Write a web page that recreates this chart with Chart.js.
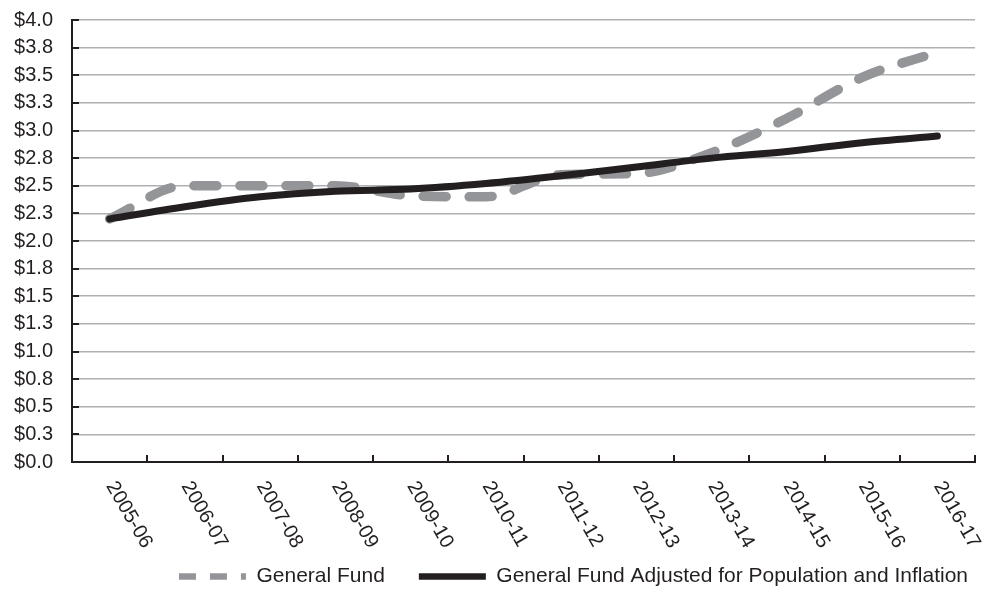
<!DOCTYPE html>
<html>
<head>
<meta charset="utf-8">
<script src="https://cdn.jsdelivr.net/npm/chart.js@4.4.1/dist/chart.umd.min.js"></script>
<style>
  html, body { margin: 0; padding: 0; background: #fff; }
  #wrap { width: 985px; height: 589px; }
</style>
</head>
<body>
<div id="wrap"><canvas id="chart"></canvas></div>
<script>
// Data (billions of dollars)
const years = ['2005-06', '2006-07', '2007-08', '2008-09', '2009-10', '2010-11',
  '2011-12', '2012-13', '2013-14', '2014-15', '2015-16', '2016-17'];
const generalFund = [2.20, 2.50, 2.50, 2.50, 2.41, 2.40, 2.60, 2.61, 2.80, 3.11, 3.48, 3.71];
const adjustedFund = [2.20, 2.31, 2.40, 2.45, 2.47, 2.52, 2.59, 2.67, 2.75, 2.81, 2.89, 2.95];
const seriesNames = ['General Fund', 'General Fund Adjusted for Population and Inflation'];

const FONT = '"Liberation Sans", Arial, sans-serif';
const INK = '#231f20';
const GREY = '#939598';

// inward tick marks + rotated category labels
const axisMarks = {
  id: 'axisMarks',
  afterLayout(chart) {
    // legend sits a little further right than chart.js would put it
    chart.legend.right = chart.chartArea.right + 27;
  },
  afterDraw(chart) {
    const { ctx, chartArea, scales: { x, y } } = chart;
    ctx.save();
    ctx.strokeStyle = INK;
    ctx.lineWidth = 2;
    ctx.beginPath();
    for (let i = 0; i <= years.length; i++) {
      const px = Math.round(x.getPixelForValue(i - 0.5));
      ctx.moveTo(px, chartArea.bottom);
      ctx.lineTo(px, chartArea.bottom - 7);
    }
    y.ticks.forEach(t => {
      const py = Math.round(y.getPixelForValue(t.value));
      ctx.moveTo(chartArea.left, py);
      ctx.lineTo(chartArea.left + 7, py);
    });
    ctx.stroke();

    ctx.fillStyle = INK;
    ctx.font = '20px ' + FONT;
    ctx.textAlign = 'left';
    ctx.textBaseline = 'middle';
    years.forEach((label, i) => {
      ctx.save();
      ctx.translate(x.getPixelForValue(i) + 1, chartArea.bottom + 21);
      ctx.rotate(Math.PI / 3);
      ctx.fillText(label, 0, 0);
      ctx.restore();
    });
    ctx.restore();
  }
};

new Chart(document.getElementById('chart'), {
  type: 'line',
  data: {
    labels: years,
    datasets: [
      {
        label: seriesNames[0],
        data: generalFund,
        borderColor: GREY,
        backgroundColor: GREY,
        borderWidth: 9.5,
        borderDash: [23, 23],
        borderCapStyle: 'round',
        cubicInterpolationMode: 'monotone',
        pointRadius: 0,
        order: 1
      },
      {
        label: seriesNames[1],
        data: adjustedFund,
        borderColor: INK,
        backgroundColor: INK,
        borderWidth: 7,
        borderCapStyle: 'round',
        cubicInterpolationMode: 'monotone',
        pointRadius: 0,
        order: 0
      }
    ]
  },
  options: {
    responsive: true,
    maintainAspectRatio: false,
    animation: false,
    layout: { padding: { left: 0, right: 10, top: 20, bottom: -8 } },
    scales: {
      x: {
        offset: true,
        grid: { display: false },
        border: { color: INK, width: 2 },
        ticks: { display: false },
        afterFit(s) { s.height = 70; }
      },
      y: {
        min: 0,
        max: 4,
        grid: { color: '#aeb0b3', lineWidth: 1.6, drawTicks: false },
        border: { color: INK, width: 2 },
        ticks: {
          stepSize: 0.25,
          autoSkip: false,
          maxTicksLimit: 20,
          padding: 19,
          color: INK,
          font: { family: FONT, size: 20 },
          callback: v => '$' + v.toFixed(1)
        },
        afterFit(s) {
          s.width = 72;
          s.paddingTop = 0;
          s.paddingBottom = 0;
        }
      }
    },
    plugins: {
      tooltip: { enabled: false },
      legend: {
        position: 'bottom',
        align: 'end',
        labels: {
          usePointStyle: true,
          pointStyle: 'line',
          pointStyleWidth: 67,
          padding: 34,
          color: INK,
          font: { family: FONT, size: 21 },
          sort: (a, b) => a.datasetIndex - b.datasetIndex,
          generateLabels(chart) {
            const items = Chart.defaults.plugins.legend.labels.generateLabels(chart);
            items.forEach(it => {
              it.lineWidth = 6.5;
              if (it.datasetIndex === 0) it.lineDash = [17, 14];
            });
            return items;
          }
        }
      }
    }
  },
  plugins: [axisMarks]
});
</script>
</body>
</html>
